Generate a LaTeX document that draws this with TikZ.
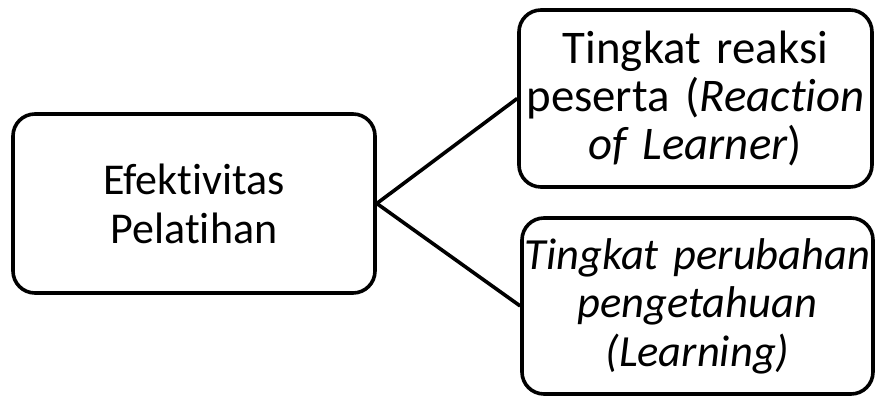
\documentclass[tikz,border=0pt]{standalone}
\usepackage{fontspec}
\setmainfont{Carlito}[Ligatures={NoCommon}]
\begin{document}
\begin{tikzpicture}[x=1pt,y=1pt,
  box/.style={draw=black, line width=3.6pt, rounded corners=22pt, inner sep=0pt,
    align=center},
  link/.style={draw=black, line width=3.6pt}]
\useasboundingbox (0,0) rectangle (876,398);
\node[box, minimum width=362, minimum height=179, text width=356, font=\fontsize{44}{49}\selectfont] (L) at (194,194.5) {Efektivitas\\Pelatihan};
\node[box, minimum width=353, minimum height=177, text width=349, font=\fontsize{46.8}{48}\selectfont] (T) at (695.5,299.5) {Tingkat reaksi\\peserta (\textit{Reaction}\\\textit{of Learner})};
\node[box, minimum width=351, minimum height=176, text width=347, font=\fontsize{44.5}{48.5}\selectfont] (B) at (697.5,92) {\textit{Tingkat perubahan}\\\textit{pengetahuan}\\\textit{(Learning)}};
\draw[link] (L.east) -- (T.west);
\draw[link] (L.east) -- (B.west);
\end{tikzpicture}
\end{document}
